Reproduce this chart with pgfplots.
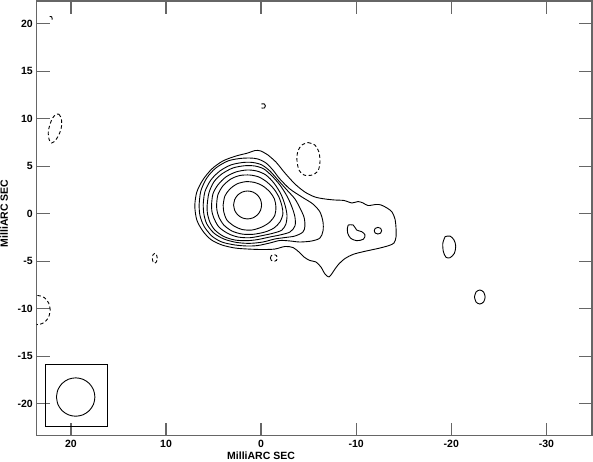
\documentclass[border=0pt]{standalone}
\usepackage{fontspec}
\setmainfont{Liberation Sans}
\usepackage{pgfplots}
\pgfplotsset{compat=1.18}
\usetikzlibrary{calc}

\newcommand{\lab}{\fontsize{10.5}{12}\selectfont\bfseries}

\pgfplotsset{
  cont/.style={black, line width=0.9pt, smooth, tension=0.5, mark=none},
  neg/.style={cont, dash pattern=on 3.5pt off 2.5pt},
}

\begin{document}
\begin{tikzpicture}
\begin{axis}[
    width=555.3pt, height=434.7pt, scale only axis,
    x dir=reverse,
    xmin=-34.8, xmax=23.6, ymin=-23.37, ymax=22.39,
    xtick={-30,-20,-10,0,10,20},
    xticklabels={-30,-20,-10,0,10,20},
    ytick={-20,-15,-10,-5,0,5,10,15,20},
    yticklabels={-20,-15,-10,-5,0,5,10,15,20},
    minor tick num=0,
    tick align=inside,
    tick pos=both,
    major tick length=13pt,
    axis line style={black!60, line width=1.3pt},
    tick style={black!60, line width=1.3pt},
    ticklabel style={font=\lab, inner sep=0pt},
    xticklabel style={yshift=-4.5pt},
    yticklabel style={xshift=-3.7pt},
    clip mode=individual,
]

% outermost contour with the jet
\addplot[cont] coordinates {
 (-0.72,6.18) (-1.56,5.44) (-2.51,4.28) (-3.56,3.13) (-4.61,2.28) (-5.66,1.76)
 (-6.72,1.55) (-7.77,1.44) (-8.72,1.39) (-9.56,1.13) (-10.19,1.28) (-10.72,1.13)
 (-11.24,0.86) (-12.08,0.97) (-12.61,0.92) (-13.24,0.60) (-13.77,0.18) (-14.08,-0.56)
 (-14.19,-1.51) (-14.19,-2.45) (-13.98,-3.08) (-13.45,-3.35) (-12.51,-3.61) (-11.56,-3.82)
 (-10.61,-4.03) (-9.66,-4.29) (-8.82,-4.72) (-8.08,-5.40) (-7.56,-6.14) (-7.14,-6.66)
 (-6.72,-6.35) (-6.29,-5.61) (-5.77,-5.08) (-5.14,-4.93) (-4.51,-4.56) (-3.98,-4.03)
 (-3.35,-3.56) (-2.51,-3.45) (-1.45,-3.72) (-0.08,-3.77) (1.39,-3.72) (2.76,-3.61)
 (4.13,-3.29) (5.28,-2.72) (6.13,-1.82) (6.76,-0.66) (6.97,0.81) (6.76,2.28)
 (6.13,3.55) (5.18,4.71) (4.02,5.55) (2.65,6.07) (1.39,6.39) (0.65,6.65)
 (0.02,6.60) (-0.72,6.18)
};
% level 2
\addplot[cont] coordinates {
 (6.52,0.92) (6.34,2.39) (5.71,3.76) (4.76,4.81) (3.49,5.55) (2.23,5.81) (1.18,5.86)
 (0.34,5.76) (-0.51,5.34) (-1.24,4.60) (-1.98,3.65) (-3.03,2.60) (-4.29,1.76)
 (-5.45,1.02) (-6.19,0.18) (-6.51,-0.87) (-6.51,-1.82) (-6.19,-2.56) (-5.35,-2.87)
 (-4.08,-2.98) (-3.03,-2.87) (-1.98,-2.82) (-0.93,-3.08) (0.34,-3.35) (1.49,-3.40)
 (2.76,-3.29) (4.13,-2.98) (5.18,-2.35) (6.02,-1.29) (6.44,-0.14) (6.52,0.92)
};
% level 3
\addplot[cont] coordinates {
 (6.09,0.92) (5.92,2.28) (5.28,3.55) (4.34,4.49) (3.18,5.13) (1.92,5.39) (0.86,5.39)
 (-0.08,5.13) (-0.93,4.49) (-1.77,3.55) (-2.72,2.49) (-3.56,1.55) (-4.08,0.60)
 (-4.51,-0.35) (-4.61,-1.29) (-4.40,-1.93) (-3.56,-2.35) (-2.51,-2.51) (-1.45,-2.66)
 (-0.19,-2.98) (1.18,-3.12) (2.55,-3.03) (3.92,-2.66) (4.97,-2.03) (5.71,-1.08)
 (6.02,-0.03) (6.09,0.92)
};
% level 4
\addplot[cont] coordinates {
 (5.67,0.92) (5.49,2.18) (4.97,3.34) (4.13,4.18) (2.97,4.81) (1.71,5.05) (0.65,5.02)
 (-0.29,4.71) (-1.14,3.97) (-1.98,3.02) (-2.72,1.86) (-3.24,0.71) (-3.56,-0.35)
 (-3.56,-1.29) (-3.03,-1.93) (-1.98,-2.24) (-0.93,-2.45) (0.34,-2.72) (1.49,-2.84)
 (2.76,-2.77) (3.92,-2.40) (4.86,-1.72) (5.39,-0.87) (5.65,0.07) (5.67,0.92)
};
% level 5
\addplot[cont] coordinates {
 (5.21,0.92) (5.07,2.07) (4.55,3.02) (3.71,3.86) (2.65,4.39) (1.49,4.60) (0.44,4.49)
 (-0.51,4.07) (-1.35,3.23) (-2.08,2.07) (-2.51,0.92) (-2.72,-0.14) (-2.61,-1.08)
 (-2.19,-1.72) (-1.35,-2.03) (-0.19,-2.29) (1.18,-2.53) (2.44,-2.45) (3.49,-2.08)
 (4.44,-1.40) (4.97,-0.45) (5.18,0.28) (5.21,0.92)
};
% level 6
\addplot[cont] coordinates {
 (4.68,0.92) (4.55,1.97) (4.02,2.92) (3.18,3.65) (2.23,4.02) (1.18,4.07) (0.23,3.86)
 (-0.61,3.34) (-1.35,2.60) (-1.87,1.76) (-2.19,0.81) (-2.29,-0.03) (-1.98,-0.87)
 (-1.35,-1.51) (-0.40,-1.93) (0.86,-2.17) (2.02,-2.14) (3.07,-1.82) (3.92,-1.19)
 (4.44,-0.35) (4.65,0.39) (4.68,0.92)
};
% level 7
\addplot[cont] coordinates {
 (3.99,0.92) (3.81,1.86) (3.28,2.60) (2.55,3.13) (1.60,3.37) (0.65,3.28) (-0.19,2.92)
 (-0.93,2.28) (-1.40,1.55) (-1.56,0.71) (-1.45,-0.14) (-0.93,-0.87) (-0.08,-1.40)
 (0.97,-1.72) (2.02,-1.66) (2.86,-1.29) (3.60,-0.66) (3.92,0.18) (3.99,0.92)
};
% level 8 (peak)
\addplot[cont] coordinates {
 (2.89,0.92) (2.78,1.48) (2.46,1.96) (1.98,2.28) (1.42,2.39) (0.86,2.28) (0.38,1.96)
 (0.06,1.48) (-0.05,0.92) (0.06,0.36) (0.38,-0.12) (0.86,-0.44) (1.42,-0.55)
 (1.98,-0.44) (2.46,-0.12) (2.78,0.36) (2.89,0.92)
};

% islands in the jet
\addplot[cont] coordinates {
 (-9.17,-1.19) (-9.69,-1.19) (-10.05,-1.72) (-10.58,-1.89) (-10.93,-2.24) (-10.75,-2.69)
 (-10.05,-2.84) (-9.42,-2.59) (-9.11,-2.06) (-9.08,-1.51) (-9.17,-1.19)
};
\addplot[cont] coordinates {
 (-11.90,-1.79) (-12.01,-1.54) (-12.29,-1.44) (-12.57,-1.54) (-12.68,-1.79)
 (-12.57,-2.04) (-12.29,-2.14) (-12.01,-2.04) (-11.90,-1.79)
};
% isolated positive components
\addplot[cont] coordinates {
 (-19.35,-2.42) (-19.87,-2.35) (-20.29,-2.77) (-20.47,-3.40) (-20.33,-4.17)
 (-19.87,-4.63) (-19.45,-4.59) (-19.17,-4.00) (-19.11,-3.12) (-19.35,-2.42)
};
\addplot[cont] coordinates {
 (-22.44,-8.77) (-22.60,-8.25) (-23.00,-8.03) (-23.40,-8.25) (-23.56,-8.77)
 (-23.40,-9.29) (-23.00,-9.51) (-22.60,-9.29) (-22.44,-8.77)
};
\addplot[cont] coordinates {
 (-0.03,11.55) (-0.35,11.55) (-0.45,11.34) (-0.35,11.13) (-0.03,11.13)
};

% negative contours
\addplot[neg] coordinates {
 (-4.93,7.49) (-5.66,7.23) (-6.08,6.49) (-6.19,5.44) (-5.98,4.49) (-5.35,4.07)
 (-4.51,4.07) (-3.98,4.60) (-3.77,5.65) (-3.87,6.60) (-4.29,7.23) (-4.93,7.49)
};
\addplot[neg] coordinates {
 (-0.98,-4.66) (-1.09,-4.40) (-1.35,-4.29) (-1.61,-4.40) (-1.72,-4.66)
 (-1.61,-4.92) (-1.35,-5.03) (-1.09,-4.92) (-0.98,-4.66)
};
\addplot[neg] coordinates {
 (10.92,-4.69) (11.00,-4.32) (11.18,-4.16) (11.36,-4.32) (11.44,-4.69)
 (11.36,-5.06) (11.18,-5.22) (11.00,-5.06) (10.92,-4.69)
};
\addplot[neg] coordinates {
 (21.28,10.49) (21.02,10.07) (20.97,9.34) (21.18,8.49) (21.60,7.76) (22.02,7.44)
 (22.28,7.76) (22.39,8.49) (22.23,9.34) (21.92,10.07) (21.60,10.44) (21.28,10.49)
};
\addplot[neg] coordinates {
 (22.17,-10.14) (22.35,-9.38) (22.83,-8.81) (23.49,-8.61) (24.15,-8.81) (24.63,-9.38)
 (24.81,-10.14) (24.63,-10.90) (24.15,-11.47) (23.49,-11.67) (22.83,-11.47)
 (22.35,-10.90) (22.17,-10.14)
};
\addplot[cont] coordinates {(22.23,20.76) (22.02,20.72) (21.97,20.43)};

% beam
\addplot[black, line width=0.9pt, mark=none] coordinates {
 (22.7,-15.85) (16.2,-15.85) (16.2,-22.4) (22.7,-22.4) (22.7,-15.85)
};
\addplot[cont] coordinates {
 (21.52,-19.3) (21.37,-18.53) (20.93,-17.87) (20.27,-17.43) (19.5,-17.28) (18.73,-17.43)
 (18.07,-17.87) (17.63,-18.53) (17.48,-19.3) (17.63,-20.07) (18.07,-20.73) (18.73,-21.17)
 (19.5,-21.32) (20.27,-21.17) (20.93,-20.73) (21.37,-20.07) (21.52,-19.3)
};

\node[anchor=north, font=\lab, inner sep=0pt] at ($(axis description cs:0.404,0)+(0pt,-15.5pt)$) {MilliARC SEC};
\node[rotate=90, anchor=south, font=\lab, inner sep=0pt] at ($(axis description cs:0,0.511)+(-28.5pt,0pt)$) {MilliARC SEC};
\end{axis}
\pgfresetboundingbox
\path[use as bounding box] ($(current axis.south west)+(-36.7pt,-25.3pt)$) rectangle ($(current axis.north east)+(1pt,1pt)$);
\end{tikzpicture}
\end{document}
